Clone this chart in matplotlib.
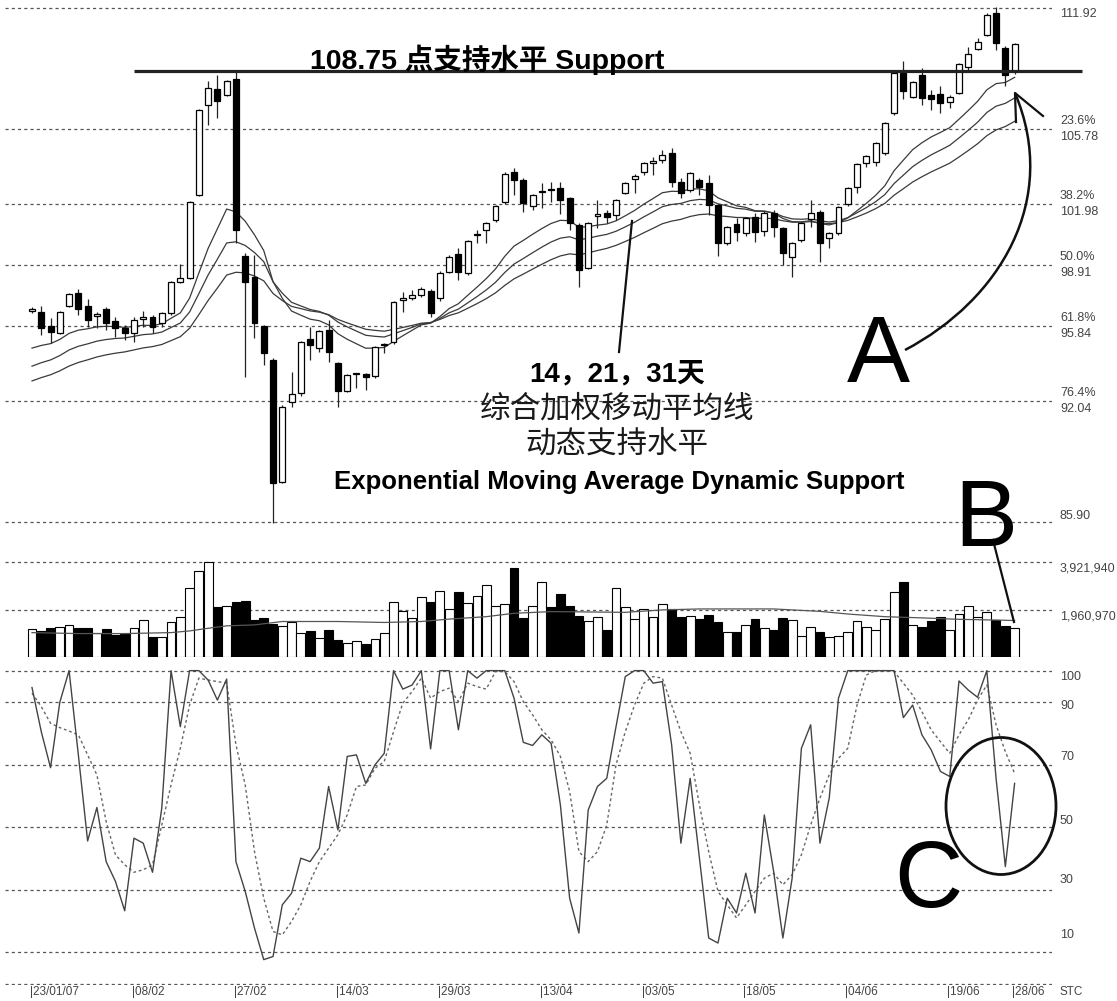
import numpy as np
import pandas as pd
import matplotlib
matplotlib.use("Agg")
import matplotlib.pyplot as plt
from matplotlib.patches import Rectangle, Ellipse, PathPatch
from matplotlib.path import Path
from matplotlib import font_manager

# 字体设置
plt.rcParams['font.family'] = ['Liberation Sans', 'Noto Sans CJK SC', 'DejaVu Sans']
names = {f.name for f in font_manager.fontManager.ttflist}
NARROW = 'Liberation Sans Narrow' if 'Liberation Sans Narrow' in names else 'Liberation Sans'

# ---------------- 数据 ----------------
opens = [96.60, 96.53, 95.83, 95.47, 96.84, 97.49, 96.84, 96.33, 96.68, 96.08,
         95.72, 95.47, 96.20, 96.28, 95.97, 96.48, 98.05, 98.25, 102.46, 107.01,
         107.82, 107.52, 108.33, 99.37, 98.30, 95.82, 94.10, 87.92, 91.97, 92.43,
         95.16, 94.71, 95.62, 93.95, 92.53, 93.38, 93.40, 93.29, 94.86, 95.01,
         97.15, 97.24, 97.39, 97.60, 97.24, 98.56, 99.47, 98.51, 100.43, 100.68,
         101.19, 102.10, 103.62, 103.22, 101.90, 102.60, 102.75, 102.80, 102.30, 100.93,
         98.76, 101.40, 101.55, 101.45, 102.56, 103.27, 103.62, 104.10, 104.23, 104.58,
         103.12, 102.71, 103.22, 103.06, 101.95, 100.03, 101.00, 100.53, 101.35, 100.63,
         101.55, 100.79, 99.32, 100.18, 101.24, 101.60, 100.28, 100.53, 101.98, 102.86,
         104.08, 104.13, 104.58, 106.60, 108.63, 107.42, 108.53, 107.52, 107.57, 107.16,
         107.62, 108.93, 109.85, 110.56, 111.67, 109.90, 108.73]
highs = [96.80, 96.83, 96.23, 96.60, 97.50, 97.69, 97.19, 96.53, 96.78, 96.28,
         95.87, 96.28, 96.58, 96.38, 96.53, 98.10, 98.96, 102.15, 106.80, 108.23,
         108.53, 108.30, 108.73, 99.52, 99.42, 95.87, 94.20, 91.80, 93.49, 95.05,
         95.77, 95.62, 96.13, 94.00, 93.40, 93.45, 93.45, 94.80, 94.95, 97.10,
         97.54, 97.64, 97.79, 97.70, 98.60, 99.40, 99.77, 100.20, 100.68, 101.10,
         101.95, 103.60, 103.82, 103.30, 102.50, 103.06, 103.10, 103.10, 102.35, 101.04,
         101.10, 102.20, 101.70, 102.25, 103.10, 103.50, 104.15, 104.38, 104.73, 104.84,
         103.32, 103.60, 103.30, 103.47, 102.00, 100.90, 101.30, 101.35, 101.55, 101.65,
         101.70, 100.85, 100.10, 101.10, 102.20, 101.70, 100.60, 101.90, 102.85, 104.10,
         104.50, 105.15, 106.15, 108.70, 109.24, 108.23, 108.88, 107.77, 108.00, 107.50,
         109.15, 109.95, 110.40, 111.65, 111.97, 110.00, 110.15]
lows = [96.47, 95.37, 94.96, 95.40, 96.78, 96.38, 95.77, 95.72, 95.62, 95.27,
        95.11, 95.01, 95.77, 95.47, 95.77, 96.40, 98.00, 98.20, 102.40, 106.00,
        106.35, 107.45, 100.03, 93.24, 95.21, 93.85, 85.85, 87.85, 91.72, 92.30,
        94.10, 94.50, 94.00, 91.72, 92.50, 92.70, 92.58, 93.20, 94.46, 94.90,
        96.53, 97.14, 97.30, 96.30, 97.10, 98.50, 98.15, 98.40, 100.03, 100.03,
        101.10, 102.00, 102.46, 101.60, 101.70, 101.80, 102.10, 101.50, 100.68, 97.80,
        98.70, 100.78, 101.04, 101.19, 102.50, 102.56, 103.47, 103.47, 104.08, 102.86,
        102.30, 102.60, 102.46, 101.45, 99.37, 99.95, 100.13, 100.40, 100.08, 100.40,
        100.33, 98.91, 98.30, 100.10, 100.84, 99.06, 99.77, 100.45, 101.90, 102.56,
        103.87, 103.92, 104.50, 106.50, 107.30, 107.35, 107.01, 106.76, 106.60, 106.86,
        107.55, 108.68, 109.80, 110.50, 109.80, 108.00, 108.60]
closes = [96.68, 95.72, 95.52, 96.53, 97.44, 96.68, 96.13, 96.43, 95.97, 95.72,
          95.47, 96.13, 96.25, 95.77, 96.48, 98.05, 98.25, 102.10, 106.76, 107.87,
          107.21, 108.23, 100.68, 98.05, 95.97, 94.46, 87.87, 91.72, 92.38, 95.01,
          94.86, 95.57, 94.51, 92.53, 93.34, 93.42, 93.24, 94.76, 94.92, 97.04,
          97.20, 97.39, 97.69, 96.50, 98.50, 99.32, 98.56, 100.13, 100.48, 101.03,
          101.90, 103.52, 103.22, 102.05, 102.46, 102.65, 102.70, 102.20, 101.04, 98.66,
          101.04, 101.45, 101.35, 102.20, 103.06, 103.42, 104.08, 104.13, 104.48, 103.12,
          102.56, 103.57, 102.86, 101.95, 100.03, 100.84, 100.58, 101.29, 100.58, 101.55,
          100.84, 99.52, 100.03, 101.04, 101.55, 100.03, 100.53, 101.85, 102.81, 104.03,
          104.43, 105.09, 106.10, 108.63, 107.72, 108.18, 107.37, 107.32, 107.11, 107.42,
          109.09, 109.60, 110.20, 111.57, 110.15, 108.53, 110.10]

# 成交量（百万股）
volume_m = [1.15, 1.08, 1.20, 1.25, 1.33, 1.20, 1.20, 1.01, 1.15, 0.92,
            0.97, 1.20, 1.53, 0.83, 0.83, 1.47, 1.64, 2.86, 3.55, 3.93,
            2.05, 2.12, 2.26, 2.30, 1.53, 1.61, 1.36, 1.29, 1.47, 1.01,
            1.08, 0.80, 1.11, 0.69, 0.56, 0.67, 0.53, 0.74, 1.01, 2.26,
            1.89, 1.61, 2.47, 2.26, 2.75, 1.99, 2.68, 2.22, 2.54, 3.00,
            2.12, 2.19, 3.69, 1.61, 2.12, 3.12, 2.06, 2.60, 2.12, 1.71,
            1.48, 1.64, 1.10, 2.85, 2.06, 1.58, 1.99, 1.64, 2.19, 1.99,
            1.64, 1.71, 1.58, 1.75, 1.44, 1.03, 1.03, 1.34, 1.58, 1.21,
            1.10, 1.62, 1.53, 0.89, 1.26, 1.05, 0.82, 0.89, 1.03, 1.48,
            1.26, 1.10, 1.58, 2.71, 3.12, 1.34, 1.26, 1.48, 1.67, 1.10,
            1.78, 2.12, 1.64, 1.85, 1.53, 1.30, 1.21]
# 成交量均线（读图取样点）
vol_ma_idx = [0, 5, 10, 15, 17, 19, 21, 24, 27, 33, 38, 42, 45, 49, 52,
              56, 64, 68, 72, 80, 85, 88, 92, 96, 100, 104, 106]
vol_ma_m = [1.01, 0.97, 0.97, 1.01, 1.08, 1.19, 1.29, 1.33, 1.47, 1.47, 1.43, 1.47, 1.57, 1.67, 1.81,
            1.88, 1.85, 1.95, 1.99, 1.99, 1.89, 1.78, 1.67, 1.62, 1.56, 1.53, 1.51]

# 随机指标 %K 与 %D
stoch_k = [94.6, 80.5, 69.0, 89.9, 100, 73.1, 45.6, 56.3, 39.0, 32.7,
           23.3, 46.5, 44.9, 35.6, 56.1, 100, 82.1, 100, 100, 97.0,
           90.6, 97.3, 39.0, 29.5, 17.8, 7.7, 8.7, 25.2, 28.9, 40.1,
           39.0, 43.3, 63.0, 49.1, 72.6, 73.1, 64.0, 69.9, 73.6, 100,
           94.1, 95.4, 100, 75.0, 100, 100, 81.1, 100, 97.6, 100,
           100, 100, 91.2, 77.1, 76.1, 79.5, 76.8, 57.1, 27.3, 16.2,
           55.5, 63.0, 65.6, 82.1, 98.1, 100, 100, 96.0, 96.5, 76.3,
           44.9, 65.6, 40.1, 14.6, 13.0, 27.3, 22.6, 35.3, 22.6, 53.9,
           35.9, 14.6, 33.7, 75.2, 82.7, 44.9, 59.3, 91.2, 100, 100,
           100, 100, 100, 100, 85.0, 89.0, 79.5, 74.7, 67.8, 66.2,
           96.7, 93.8, 91.5, 100, 65.6, 37.4, 64.0]
stoch_d = [92.8, 88.5, 83.2, 81.8, 80.7, 79.5, 73.1, 66.7, 51.8, 41.2,
           38.0, 35.6, 36.4, 38.0, 50.7, 63.5, 75.2, 89.0, 97.6, 97.0,
           96.5, 96.0, 76.3, 63.5, 42.2, 27.3, 16.7, 15.6, 19.9, 25.2,
           32.7, 39.0, 43.3, 47.6, 53.9, 63.0, 63.5, 68.8, 71.0, 80.5,
           89.6, 93.3, 97.6, 91.2, 93.3, 94.4, 90.1, 96.0, 94.9, 94.1,
           99.7, 99.7, 96.5, 90.1, 85.9, 81.1, 77.9, 72.6, 61.4, 42.2,
           39.0, 42.2, 50.7, 69.9, 80.5, 89.0, 96.0, 98.1, 97.6, 89.0,
           80.5, 73.6, 57.1, 42.2, 29.5, 25.2, 21.0, 25.2, 29.5, 33.7,
           35.3, 31.6, 34.8, 41.2, 50.7, 59.3, 66.7, 72.0, 75.2, 89.0,
           98.6, 100, 100, 99.7, 96.0, 92.2, 86.9, 81.1, 77.3, 73.6,
           79.5, 84.3, 90.6, 95.4, 82.7, 74.1, 67.2]

# EMA 周期及图中首日之前的起始值
ema_spans = [14, 21, 31]
ema_seeds = [94.4, 93.5, 92.8]

fib_levels = [111.92, 105.78, 101.98, 98.91, 95.84, 92.04, 85.90]
fib_labels = ['111.92', '23.6%\n105.78', '38.2%\n101.98', '50.0%\n98.91',
              '61.8%\n95.84', '76.4%\n92.04', '85.90']
support = 108.75
vol_grid = [1960970, 3921940]
stoch_grid = [100, 90, 70, 50, 30, 10]
date_labels = ['23/01/07', '08/02', '27/02', '14/03', '29/03', '13/04',
               '03/05', '18/05', '04/06', '19/06', '28/06']
date_idx = [0, 11, 22, 33, 44, 55, 66, 77, 88, 99, 106]

# ---------------- 画布 ----------------
W, H = 1117, 1001
fig = plt.figure(figsize=(W / 100, H / 100), dpi=100)
SP, X0 = 9.27, 32          # 每根K线像素间距, 第一根位置
def px2i(px):
    return (px - X0) / SP
xl = (px2i(5), px2i(1052))
left, width = 5 / W, 1047 / W

ax_p = fig.add_axes([left, 1 - 530 / H, width, 530 / H])
ax_v = fig.add_axes([left, 1 - 657 / H, width, 117 / H])
ax_s = fig.add_axes([left, 1 - 985 / H, width, 320 / H])
for a in (ax_p, ax_v, ax_s):
    a.set_xlim(*xl)
    a.axis('off')
ax_p.set_ylim(112.33 - 530 / 19.75, 112.33)
ax_v.set_ylim(0, 4.845e6)
ax_s.set_ylim(-0.4, 101.8)

grid_kw = dict(color='#555555', lw=0.9, ls=(0, (2.5, 2.5)))
lab_kw = dict(fontsize=9, color='#444444', family=NARROW, ha='left', va='center')
xr = px2i(1060)

# 价格面板
for lv in fib_levels:
    ax_p.axhline(lv, **grid_kw)
ax_p.text(xr, 111.62, fib_labels[0], **lab_kw)
for lv, lb in zip(fib_levels[1:-1], fib_labels[1:-1]):
    ax_p.text(xr, lv, lb, linespacing=1.45, **lab_kw)
ax_p.text(xr, 86.2, fib_labels[-1], **lab_kw)

idx = np.arange(len(closes))
cl = pd.Series(closes)
for span, seed in zip(ema_spans, ema_seeds):
    ema = pd.concat([pd.Series([seed]), cl]).ewm(span=span, adjust=False).mean().iloc[1:]
    ax_p.plot(idx, ema.values, color='#3a3a3a', lw=0.9, zorder=2)

up = [c >= o for o, c in zip(opens, closes)]
for i in idx:
    o, h, l, c = opens[i], highs[i], lows[i], closes[i]
    ax_p.vlines(i, l, h, color='#222222', lw=0.9, zorder=3)
    lo, hi = min(o, c), max(o, c)
    hi = max(hi, lo + 0.07)
    ax_p.add_patch(Rectangle((i - 0.32, lo), 0.64, hi - lo,
                             facecolor='white' if up[i] else 'black',
                             edgecolor='black', lw=0.9, zorder=4))

ax_p.plot([px2i(134), px2i(1082)], [support, support], color='#222222',
          lw=2.3, solid_capstyle='butt', clip_on=False, zorder=5)

# 成交量面板
for g in vol_grid:
    ax_v.axhline(g, **grid_kw)
vol = np.array(volume_m) * 1e6
ax_v.bar(idx, vol, width=0.95, color=['white' if u else 'black' for u in up],
         edgecolor='black', lw=0.8, zorder=3)
ax_v.plot(vol_ma_idx, np.array(vol_ma_m) * 1e6, color='#555555', lw=0.9, zorder=4)
ax_v.text(xr, 3921940 - 0.25e6, '3,921,940', **lab_kw)
ax_v.text(xr, 1960970 - 0.3e6, '1,960,970', **lab_kw)

# 随机指标面板
for g in stoch_grid:
    ax_s.axhline(g, **grid_kw)
ax_s.axhline(0, **grid_kw)
ax_s.plot(idx, stoch_d, color='#666666', lw=1.0, ls=(0, (2, 2)), zorder=3)
ax_s.plot(idx, stoch_k, color='#444444', lw=1.0, zorder=4)
for g, yy in zip(stoch_grid, [98, 88.7, 72.4, 52.1, 33.1, 15.6]):
    ax_s.text(xr, yy, str(g), **lab_kw)
for d, i in zip(date_labels, date_idx):
    ax_s.text(i - 0.25, -2.6, '|' + d, fontsize=8.5, color='#444444', family=NARROW,
              ha='left', va='center')
ax_s.text(xr, -2.6, 'STC', fontsize=8.5, color='#444444', family=NARROW,
          ha='left', va='center')

# ---------------- 注释 ----------------
def fx(x):
    return x / W
def fy(y):
    return 1 - y / H

fig.text(fx(487), fy(60), '108.75 点支持水平 Support', fontsize=20.5, fontweight='bold',
         ha='center', va='center')
fig.text(fx(617), fy(374), '14，21，31天', fontsize=20, fontweight='bold',
         ha='center', va='center')
fig.text(fx(617), fy(410), '综合加权移动平均线', fontsize=22, color='#1a1a1a',
         ha='center', va='center')
fig.text(fx(617), fy(445), '动态支持水平', fontsize=22, color='#1a1a1a',
         ha='center', va='center')
fig.text(fx(619), fy(482), 'Exponential Moving Average Dynamic Support',
         fontsize=20 if NARROW != 'Liberation Sans' else 18.5, fontweight='bold',
         family=NARROW, ha='center', va='center')
for s, (x, y) in zip('ABC', [(878, 358), (986, 521), (928, 882)]):
    fig.text(fx(x), fy(y), s, fontsize=68, ha='center', va='center')

line_kw = dict(color='#111111', lw=1.6, transform=fig.transFigure)
fig.add_artist(plt.Line2D([fx(632), fx(619)], [fy(221), fy(352)], **line_kw))
fig.add_artist(plt.Line2D([fx(993), fx(1014)], [fy(540), fy(622)], **line_kw))
pts = [(905, 350), (1000, 300), (1060, 200), (1015, 93)]
curve = Path([(fx(x), fy(y)) for x, y in pts],
             [Path.MOVETO, Path.CURVE4, Path.CURVE4, Path.CURVE4])
fig.add_artist(PathPatch(curve, facecolor='none', edgecolor='#111111', lw=1.8,
                         transform=fig.transFigure))
fig.add_artist(plt.Line2D([fx(1043), fx(1015), fx(1016)], [fy(116), fy(93), fy(122)],
                          **line_kw))
fig.add_artist(Ellipse((fx(1001), fy(806)), 110 / W, 137 / H, facecolor='none',
                       edgecolor='#111111', lw=2.0, transform=fig.transFigure))

fig.savefig('out.png', dpi=100)
